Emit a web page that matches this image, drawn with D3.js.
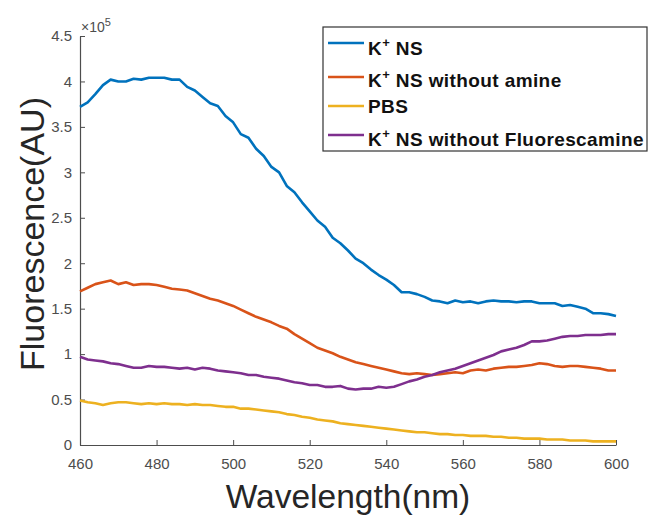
<!DOCTYPE html>
<html>
<head>
<meta charset="utf-8">
<script src="https://cdn.jsdelivr.net/npm/d3@7"></script>
<style>
  body { margin: 0; background: #fff; }
  svg { font-family: "Liberation Sans", Arial, sans-serif; }
</style>
</head>
<body>
<div id="chart"></div>
<script>
// wavelength grid (nm), one reading every 2 nm
const wavelength = d3.range(460, 601, 2);

// fluorescence readings, in units of 1e5 AU
const kNS = [3.72, 3.77, 3.86, 3.96, 4.02, 4.00, 4.00, 4.03, 4.02, 4.04, 4.04, 4.04, 4.02, 4.02, 3.94, 3.90,
  3.83, 3.76, 3.73, 3.62, 3.55, 3.42, 3.38, 3.26, 3.18, 3.06, 3.00, 2.85, 2.78, 2.67, 2.57, 2.47,
  2.40, 2.28, 2.22, 2.14, 2.05, 2.00, 1.93, 1.87, 1.82, 1.76, 1.68, 1.68, 1.66, 1.63, 1.59, 1.58,
  1.56, 1.59, 1.57, 1.58, 1.56, 1.58, 1.59, 1.58, 1.58, 1.57, 1.58, 1.58, 1.56, 1.56, 1.56, 1.53,
  1.54, 1.52, 1.50, 1.45, 1.45, 1.44, 1.42];
const kNSnoAmine = [1.69, 1.73, 1.77, 1.79, 1.81, 1.77, 1.79, 1.76, 1.77, 1.77, 1.76, 1.74, 1.72, 1.71, 1.70, 1.67,
  1.64, 1.61, 1.59, 1.56, 1.53, 1.49, 1.45, 1.41, 1.38, 1.35, 1.31, 1.28, 1.22, 1.17, 1.12, 1.07,
  1.04, 1.01, 0.97, 0.94, 0.91, 0.89, 0.87, 0.85, 0.83, 0.81, 0.79, 0.78, 0.79, 0.78, 0.77, 0.78,
  0.79, 0.80, 0.79, 0.82, 0.83, 0.82, 0.84, 0.85, 0.86, 0.86, 0.87, 0.88, 0.90, 0.89, 0.87, 0.86,
  0.87, 0.87, 0.86, 0.85, 0.84, 0.82, 0.82];
const pbs = [0.49, 0.47, 0.46, 0.44, 0.46, 0.47, 0.47, 0.46, 0.45, 0.46, 0.45, 0.46, 0.45, 0.45, 0.44, 0.45,
  0.44, 0.44, 0.43, 0.42, 0.42, 0.40, 0.40, 0.39, 0.38, 0.37, 0.36, 0.34, 0.33, 0.31, 0.30, 0.28,
  0.27, 0.26, 0.24, 0.23, 0.22, 0.21, 0.20, 0.19, 0.18, 0.17, 0.16, 0.15, 0.14, 0.14, 0.13, 0.12,
  0.12, 0.11, 0.11, 0.10, 0.10, 0.10, 0.09, 0.09, 0.08, 0.08, 0.07, 0.07, 0.07, 0.06, 0.06, 0.06,
  0.05, 0.05, 0.05, 0.04, 0.04, 0.04, 0.04];
const kNSnoFluor = [0.97, 0.94, 0.93, 0.92, 0.90, 0.89, 0.87, 0.85, 0.85, 0.87, 0.86, 0.86, 0.85, 0.84, 0.85, 0.83,
  0.85, 0.84, 0.82, 0.81, 0.80, 0.79, 0.77, 0.77, 0.75, 0.74, 0.73, 0.71, 0.69, 0.68, 0.66, 0.66,
  0.64, 0.64, 0.65, 0.62, 0.61, 0.62, 0.62, 0.64, 0.63, 0.64, 0.67, 0.70, 0.72, 0.75, 0.77, 0.80,
  0.82, 0.84, 0.87, 0.90, 0.93, 0.96, 0.99, 1.03, 1.05, 1.07, 1.10, 1.14, 1.14, 1.15, 1.17, 1.19,
  1.20, 1.20, 1.21, 1.21, 1.21, 1.22, 1.22];

const seriesNames = ["NS", "NS without amine", "PBS", "NS without Fluorescamine"];
const seriesHasK = [true, true, false, true];
const seriesValues = [kNS, kNSnoAmine, pbs, kNSnoFluor];
const seriesColors = ["#0072BD", "#D95319", "#EDB120", "#7E2F8E"];

const xTicks = [460, 480, 500, 520, 540, 560, 580, 600];
const yTicks = [0, 0.5, 1, 1.5, 2, 2.5, 3, 3.5, 4, 4.5];

const W = 649, H = 515;
const svg = d3.select("#chart").append("svg")
  .attr("width", W).attr("height", H);

const x = d3.scaleLinear().domain([460, 600]).range([80, 616]);
const y = d3.scaleLinear().domain([0, 4.5]).range([445, 36]);

// axes (MATLAB style: ticks pointing inward)
const xAxis = svg.append("g")
  .attr("transform", "translate(0," + y(0) + ")")
  .call(d3.axisBottom(x).tickValues(xTicks).tickSizeInner(-5).tickSizeOuter(0).tickPadding(10));
const yAxis = svg.append("g")
  .attr("transform", "translate(" + x(460) + ",0)")
  .call(d3.axisLeft(y).tickValues(yTicks).tickSizeInner(-5).tickSizeOuter(0).tickPadding(8)
    .tickFormat(d => String(d)));

[xAxis, yAxis].forEach(a => {
  a.select(".domain").attr("stroke", "#4d4d4d").attr("stroke-width", 1.2);
  a.selectAll(".tick line").attr("stroke", "#4d4d4d");
  a.selectAll(".tick text").attr("fill", "#4d4d4d").style("font-size", "15px");
});
xAxis.selectAll(".tick text").attr("dy", "0.95em");

// exponent
const expo = svg.append("text")
  .attr("x", 81).attr("y", 32)
  .attr("fill", "#4d4d4d").style("font-size", "14px");
expo.append("tspan").text("\u00d710");
expo.append("tspan").attr("dy", -6).style("font-size", "11px").text("5");

// lines
const line = d3.line()
  .x((d, i) => x(wavelength[i]))
  .y(d => y(d));

svg.selectAll(".series")
  .data(seriesValues)
  .enter().append("path")
  .attr("class", "series")
  .attr("fill", "none")
  .attr("stroke", (d, i) => seriesColors[i])
  .attr("stroke-width", 2.6)
  .attr("stroke-linejoin", "round")
  .attr("d", line);

// axis labels
svg.append("text")
  .attr("x", (x(460) + x(600)) / 2).attr("y", 508)
  .attr("text-anchor", "middle")
  .attr("fill", "#262626")
  .style("font-size", "33.5px")
  .text("Wavelength(nm)");

svg.append("text")
  .attr("transform", "translate(44,234) rotate(-90)")
  .attr("text-anchor", "middle")
  .attr("fill", "#262626")
  .style("font-size", "34px")
  .text("Fluorescence(AU)");

// legend
const legend = svg.append("g");
legend.append("rect")
  .attr("x", 323).attr("y", 27)
  .attr("width", 324).attr("height", 124)
  .attr("fill", "#fff")
  .attr("stroke", "#333").attr("stroke-width", 1.2);

const legendLineY = [43, 77, 106, 135];
const legendTextY = [55, 87, 113, 146];

const items = legend.selectAll(".item")
  .data(seriesNames)
  .enter().append("g")
  .attr("class", "item");

items.append("line")
  .attr("x1", 328).attr("x2", 364)
  .attr("y1", (d, i) => legendLineY[i]).attr("y2", (d, i) => legendLineY[i])
  .attr("stroke", (d, i) => seriesColors[i])
  .attr("stroke-width", 2.6);

items.each(function(d, i) {
  const t = d3.select(this).append("text")
    .attr("x", 368).attr("y", legendTextY[i])
    .attr("fill", "#111")
    .style("font-size", "19px").style("font-weight", "bold")
    .style("letter-spacing", "0.4px");
  if (seriesHasK[i]) {
    t.append("tspan").text("K");
    t.append("tspan").attr("dy", -8).style("font-size", "13px").text("+");
    t.append("tspan").attr("dy", 8).text(" " + d);
  } else {
    t.append("tspan").text(d);
  }
});
</script>
</body>
</html>
